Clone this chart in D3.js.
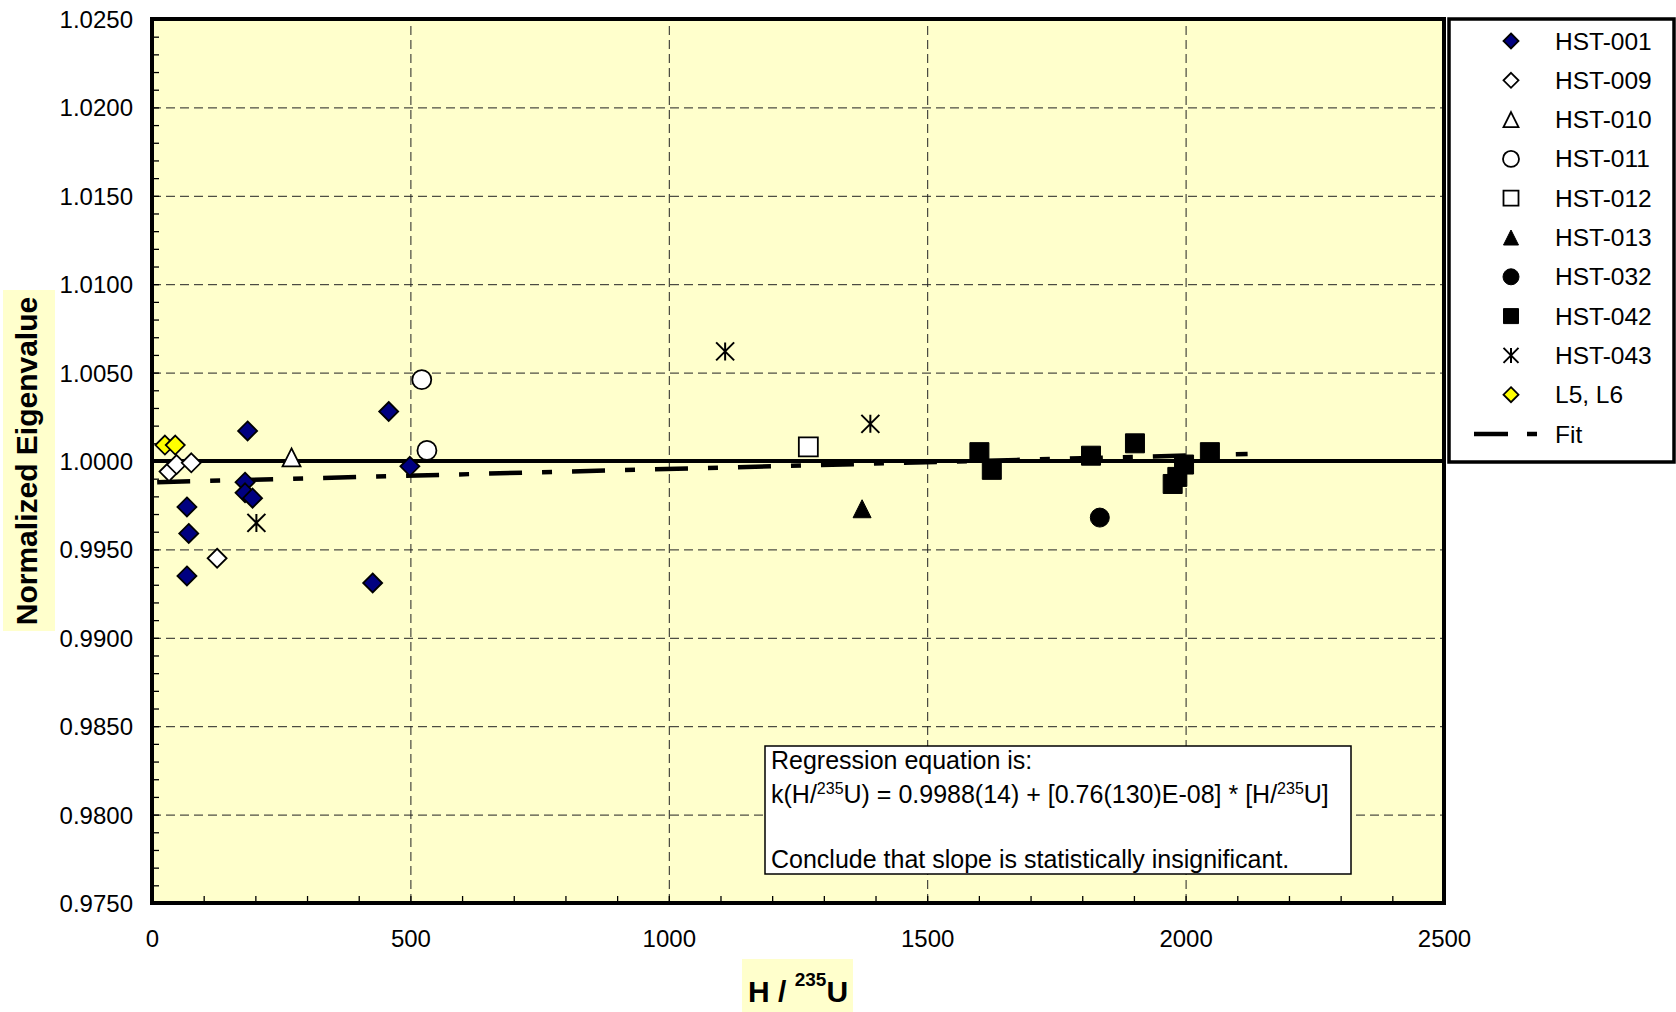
<!DOCTYPE html>
<html>
<head>
<meta charset="utf-8">
<script src="https://cdn.jsdelivr.net/npm/d3@7"></script>
<style>
body { margin: 0; background: #fff; }
svg text { font-family: Arial, "Liberation Sans", sans-serif; fill: #000; }
</style>
</head>
<body>
<div id="chart"></div>
<script>
// axis ticks
var xTicks = [0, 500, 1000, 1500, 2000, 2500]
var yTicks = [0.975, 0.980, 0.985, 0.990, 0.995, 1.000, 1.005, 1.010, 1.015, 1.020, 1.025]

// series values [H/235U, normalized eigenvalue]
var hst001 = [[67.6, 0.9974], [71.1, 0.9959], [67.6, 0.9935], [180, 0.9988], [180, 0.9982],
              [194.6, 0.9979], [185, 1.0017], [427, 0.9931], [458, 1.0028], [499, 0.9997]]
var hst009 = [[33, 0.9994], [47.5, 0.9998], [76, 0.9999], [126, 0.9945]]
var hst010 = [[270, 1.0002]]
var hst011 = [[522, 1.0046], [532, 1.0006]]
var hst012 = [[1270, 1.0008]]
var hst013 = [[1374, 0.9973]]
var hst032 = [[1834, 0.9968]]
var hst042 = [[1601, 1.0005], [1625, 0.9995], [1817, 1.0003], [1902, 1.0010],
              [1975, 0.9987], [1984, 0.9991], [1997, 0.9998], [2047, 1.0005]]
var hst043 = [[202, 0.9965], [1109, 1.0062], [1390, 1.0021]]
var l5l6 = [[25, 1.0009], [45, 1.0009]]
var fitLine = [[10, 0.9988], [2120, 1.0004]]

var series = [
  { name: "HST-001", data: hst001, shape: "diamond", fill: "#000080" },
  { name: "HST-009", data: hst009, shape: "diamond", fill: "#fff" },
  { name: "HST-010", data: hst010, shape: "triangle", fill: "#fff" },
  { name: "HST-011", data: hst011, shape: "circle", fill: "#fff" },
  { name: "HST-012", data: hst012, shape: "square", fill: "#fff" },
  { name: "HST-013", data: hst013, shape: "triangle", fill: "#000" },
  { name: "HST-032", data: hst032, shape: "circle", fill: "#000" },
  { name: "HST-042", data: hst042, shape: "square", fill: "#000" },
  { name: "HST-043", data: hst043, shape: "asterisk", fill: "none" },
  { name: "L5, L6", data: l5l6, shape: "diamond", fill: "#ffff00" }
]

// excel-like marker shapes, size = (box width)^2
var shapes = {
  diamond: { draw: function(c, s) { var r = Math.sqrt(s) / 2
    c.moveTo(0, -r); c.lineTo(r, 0); c.lineTo(0, r); c.lineTo(-r, 0); c.closePath() } },
  square: { draw: function(c, s) { var r = Math.sqrt(s) / 2
    c.rect(-r, -r, 2 * r, 2 * r) } },
  triangle: { draw: function(c, s) { var r = Math.sqrt(s) / 2
    c.moveTo(0, -r); c.lineTo(r, r); c.lineTo(-r, r); c.closePath() } },
  circle: { draw: function(c, s) { var r = Math.sqrt(s) / 2
    c.moveTo(r, 0); c.arc(0, 0, r, 0, 2 * Math.PI) } },
  asterisk: { draw: function(c, s) { var r = Math.sqrt(s) / 2
    c.moveTo(-r, -r); c.lineTo(r, r); c.moveTo(r, -r); c.lineTo(-r, r)
    c.moveTo(0, -r); c.lineTo(0, r) } }
}
var plotSize = { diamond: 19, square: 19, triangle: 18, circle: 19, asterisk: 18 }
var legSize = { diamond: 15, square: 15, triangle: 15, circle: 16, asterisk: 15 }

var W = 1676, H = 1012
var margin = {top: 19, right: 232, bottom: 109, left: 152},
    width  = W - margin.left - margin.right,
    height = H - margin.top - margin.bottom

var svg = d3.select("#chart").append("svg")
  .attr("width", W)
  .attr("height", H)

var g = svg.append("g")
  .attr("transform", "translate(" + margin.left + "," + margin.top + ")")

var x = d3.scaleLinear().domain([0, 2500]).range([0, width])
var y = d3.scaleLinear().domain([0.975, 1.025]).range([height, 0])

g.append("rect")
  .attr("width", width).attr("height", height)
  .attr("fill", "#ffffcc")

// gridlines
g.append("g").attr("class", "grid x")
  .attr("transform", "translate(0," + height + ")")
  .call(d3.axisBottom(x).tickValues(xTicks.slice(1, -1)).tickSize(-height).tickFormat(""))
g.append("g").attr("class", "grid y")
  .call(d3.axisLeft(y).tickValues(yTicks.slice(1, -1)).tickSize(-width).tickFormat(""))
g.selectAll(".grid .domain").remove()
g.selectAll(".grid line")
  .attr("stroke", "#222")
  .attr("stroke-width", 1)
  .attr("stroke-dasharray", "9,5")

// minor ticks
g.append("g").attr("class", "minor")
  .attr("transform", "translate(0," + height + ")")
  .call(d3.axisTop(x).ticks(25).tickSize(7).tickFormat(""))
g.append("g").attr("class", "minor")
  .call(d3.axisRight(y).ticks(50).tickSize(7).tickFormat(""))
g.selectAll(".minor .domain").remove()
g.selectAll(".minor line").attr("stroke", "#000").attr("stroke-width", 1.3)

// reference line at 1.0
g.append("line")
  .attr("x1", 0).attr("x2", width)
  .attr("y1", y(1)).attr("y2", y(1))
  .attr("stroke", "#000").attr("stroke-width", 4)

var line = d3.line()
  .x(d => x(d[0]))
  .y(d => y(d[1]))

g.append("path")
  .datum(fitLine)
  .attr("fill", "none")
  .attr("stroke", "#000")
  .attr("stroke-width", 4.5)
  .attr("stroke-dasharray", "33,20,10,20")
  .attr("d", line)

// points
series.forEach(s => {
  g.append("g").selectAll("path")
    .data(s.data)
    .enter().append("path")
      .attr("transform", d => "translate(" + x(d[0]) + "," + y(d[1]) + ")")
      .attr("d", d3.symbol().type(shapes[s.shape]).size(Math.pow(plotSize[s.shape], 2)))
      .attr("fill", s.fill)
      .attr("stroke", "#000")
      .attr("stroke-width", s.shape == "asterisk" ? 2 : (s.fill == "#000" ? 1 : 1.8))
})

// frame
g.append("rect")
  .attr("width", width).attr("height", height)
  .attr("fill", "none")
  .attr("stroke", "#000").attr("stroke-width", 4)

// tick labels
var xAxis = g.append("g")
  .attr("transform", "translate(0," + height + ")")
  .call(d3.axisBottom(x).tickValues(xTicks).tickSize(0).tickPadding(27).tickFormat(d3.format("d")))
var yAxis = g.append("g")
  .call(d3.axisLeft(y).tickValues(yTicks).tickSize(0).tickPadding(19).tickFormat(d3.format(".4f")))
g.selectAll(".domain").remove()
xAxis.selectAll("text").style("font-size", "24px").attr("fill", "#000")
yAxis.selectAll("text").style("font-size", "24px").attr("fill", "#000").attr("dy", "0.35em")

// axis titles
svg.append("rect").attr("x", 3).attr("y", 290).attr("width", 52).attr("height", 341).attr("fill", "#ffffcc")
svg.append("text")
  .attr("transform", "translate(37,461) rotate(-90)")
  .attr("text-anchor", "middle")
  .style("font-size", "30px").style("font-weight", "bold")
  .text("Normalized Eigenvalue")

svg.append("rect").attr("x", 742).attr("y", 959).attr("width", 111).attr("height", 53).attr("fill", "#ffffcc")
var xt = svg.append("text")
  .attr("x", 748).attr("y", 1002)
  .style("font-size", "30px").style("font-weight", "bold")
xt.append("tspan").text("H / ")
xt.append("tspan").attr("dy", -16).style("font-size", "19px").text("235")
xt.append("tspan").attr("dy", 16).text("U")

// regression note
svg.append("rect")
  .attr("x", 765).attr("y", 746).attr("width", 586).attr("height", 128)
  .attr("fill", "#fff").attr("stroke", "#000").attr("stroke-width", 1.5)
var note = svg.append("g").style("font-size", "25px")
note.append("text").attr("x", 771).attr("y", 769).text("Regression equation is:")
var eq = note.append("text").attr("x", 771).attr("y", 803)
eq.append("tspan").text("k(H/")
eq.append("tspan").attr("dy", -9).style("font-size", "16px").text("235")
eq.append("tspan").attr("dy", 9).text("U) = 0.9988(14) + [0.76(130)E-08] * [H/")
eq.append("tspan").attr("dy", -9).style("font-size", "16px").text("235")
eq.append("tspan").attr("dy", 9).text("U]")
note.append("text").attr("x", 771).attr("y", 868).text("Conclude that slope is statistically insignificant.")

// legend
var leg = svg.append("g")
leg.append("rect")
  .attr("x", 1449).attr("y", 19).attr("width", 225).attr("height", 443)
  .attr("fill", "#fff").attr("stroke", "#000").attr("stroke-width", 3.5)
var legY = d3.scalePoint().domain(series.map(s => s.name).concat(["Fit"])).range([41, 434])
series.forEach(s => {
  leg.append("path")
    .attr("transform", "translate(1511," + legY(s.name) + ")")
    .attr("d", d3.symbol().type(shapes[s.shape]).size(Math.pow(legSize[s.shape], 2)))
    .attr("fill", s.fill)
    .attr("stroke", "#000")
    .attr("stroke-width", s.shape == "asterisk" ? 2 : (s.fill == "#000" ? 1 : 1.8))
  leg.append("text")
    .attr("x", 1555).attr("y", legY(s.name)).attr("dy", "0.35em")
    .style("font-size", "24.5px")
    .text(s.name)
})
leg.append("line")
  .attr("x1", 1474).attr("x2", 1540)
  .attr("y1", legY("Fit")).attr("y2", legY("Fit"))
  .attr("stroke", "#000").attr("stroke-width", 4.5)
  .attr("stroke-dasharray", "34,19,10,40")
leg.append("text")
  .attr("x", 1555).attr("y", legY("Fit")).attr("dy", "0.35em")
  .style("font-size", "24.5px")
  .text("Fit")
</script>
</body>
</html>
